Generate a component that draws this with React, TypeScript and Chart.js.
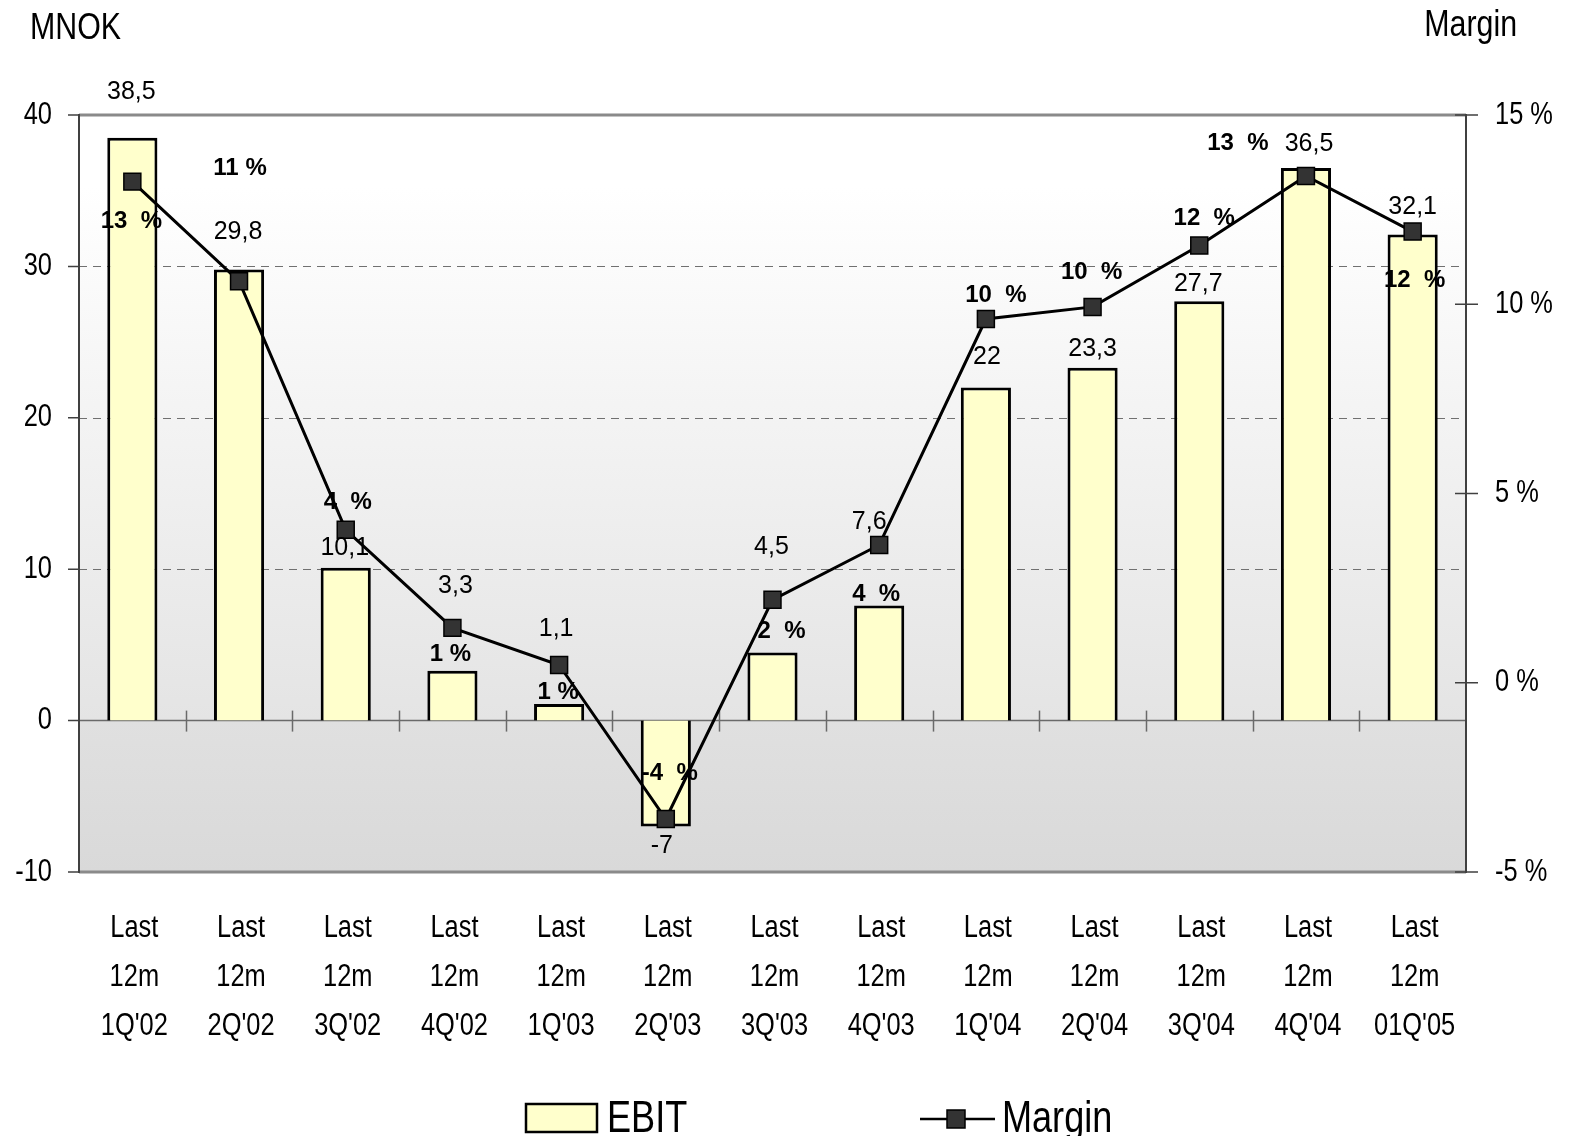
import React, { useEffect, useRef } from "react";
import { Chart, registerables } from "chart.js";

Chart.register(...registerables);

// ---------- data ----------
const quarters = ["1Q'02", "2Q'02", "3Q'02", "4Q'02", "1Q'03", "2Q'03", "3Q'03", "4Q'03", "1Q'04", "2Q'04", "3Q'04", "4Q'04", "01Q'05"];
const categoryPrefix = ["Last", "12m"];
const ebit = [38.5, 29.8, 10.1, 3.3, 1.1, -7, 4.5, 7.6, 22, 23.3, 27.7, 36.5, 32.1];
const margin = [13.24, 10.61, 4.04, 1.45, 0.47, -3.6, 2.19, 3.64, 9.61, 9.93, 11.55, 13.39, 11.92];
const ebitLabels = ["38,5", "29,8", "10,1", "3,3", "1,1", "-7", "4,5", "7,6", "22", "23,3", "27,7", "36,5", "32,1"];
const marginLabels = ["13  %", "11 %", "4  %", "1 %", "1 %", "-4  %", "2  %", "4  %", "10  %", "10  %", "12  %", "13  %", "12  %"];
const leftTicks = [-10, 0, 10, 20, 30, 40];
const rightTicks = [-5, 0, 5, 10, 15];
const dashedGrid = [10, 20, 30];

// label placement offsets (px, relative to bar end / marker)
const ebitLabelOffsets = [[-1, -46], [-1, -37], [-1, -20], [3, -85], [-3, -75], [-4, 20], [-1, -105], [-10, -83], [1, -30], [0, -19], [-1, -17], [3, -24], [0, -27]];
const marginLabelOffsets = [[-1, 40], [1, -113], [2, -27], [-2, 27], [-1, 27], [4, -46], [9, 32], [-3, 49], [10, -24], [-1, -35], [5, -27], [-68, -33], [2, 49]];

const REG = '"Liberation Sans", Arial, sans-serif';
const CONDENSE = 0.82;

function narrowText(ctx: CanvasRenderingContext2D, text: string, x: number, y: number, size: number, align: CanvasTextAlign, baseline: CanvasTextBaseline) {
  ctx.save();
  ctx.font = `${size}px ${REG}`;
  ctx.textAlign = align;
  ctx.textBaseline = baseline;
  ctx.translate(x, y);
  ctx.scale(CONDENSE, 1);
  ctx.fillText(text, 0, 0);
  ctx.restore();
}

const decorPlugin = {
  id: "decor",
  beforeDatasetsDraw(chart: any) {
    const { ctx, chartArea: a, scales } = chart;
    const y = scales.y;
    const y1 = scales.y1;
    const x = scales.x;
    const zero = y.getPixelForValue(0);
    ctx.save();
    // background
    const g = ctx.createLinearGradient(0, a.top, 0, zero);
    g.addColorStop(0, "#ffffff");
    g.addColorStop(0.12, "#ffffff");
    g.addColorStop(1, "#e4e4e4");
    ctx.fillStyle = g;
    ctx.fillRect(a.left, a.top, a.right - a.left, zero - a.top);
    const g2 = ctx.createLinearGradient(0, zero, 0, a.bottom);
    g2.addColorStop(0, "#e0e0e0");
    g2.addColorStop(1, "#d9d9d9");
    ctx.fillStyle = g2;
    ctx.fillRect(a.left, zero, a.right - a.left, a.bottom - zero);

    // dashed grid
    ctx.strokeStyle = "#707070";
    ctx.lineWidth = 1.2;
    ctx.setLineDash([8, 6]);
    for (const v of dashedGrid) {
      const py = Math.round(y.getPixelForValue(v)) + 0.5;
      ctx.beginPath();
      ctx.moveTo(a.left, py);
      ctx.lineTo(a.right, py);
      ctx.stroke();
    }
    ctx.setLineDash([]);

    // zero line
    ctx.strokeStyle = "#6a6a6a";
    ctx.lineWidth = 1.5;
    ctx.beginPath();
    ctx.moveTo(a.left, zero);
    ctx.lineTo(a.right, zero);
    ctx.stroke();

    // category ticks on zero line
    const n = quarters.length;
    for (let i = 1; i < n; i++) {
      const px = Math.round((x.getPixelForValue(i - 1) + x.getPixelForValue(i)) / 2) + 0.5;
      ctx.beginPath();
      ctx.moveTo(px, zero - 10);
      ctx.lineTo(px, zero + 11);
      ctx.stroke();
    }

    // top & bottom borders
    ctx.strokeStyle = "#8a8a8a";
    ctx.lineWidth = 3;
    ctx.beginPath();
    ctx.moveTo(a.left, a.top);
    ctx.lineTo(a.right, a.top);
    ctx.moveTo(a.left, a.bottom);
    ctx.lineTo(a.right, a.bottom);
    ctx.stroke();

    // axes lines
    ctx.strokeStyle = "#404040";
    ctx.lineWidth = 2;
    ctx.beginPath();
    ctx.moveTo(a.left, a.top - 1);
    ctx.lineTo(a.left, a.bottom + 1);
    ctx.moveTo(a.right, a.top - 1);
    ctx.lineTo(a.right, a.bottom + 1);
    ctx.stroke();

    // axis tick marks
    ctx.lineWidth = 1.5;
    ctx.beginPath();
    for (const v of leftTicks) {
      const py = y.getPixelForValue(v);
      ctx.moveTo(a.left - 11, py);
      ctx.lineTo(a.left, py);
    }
    for (const v of rightTicks) {
      const py = y1.getPixelForValue(v);
      ctx.moveTo(a.right - 11, py);
      ctx.lineTo(a.right + 12, py);
    }
    ctx.stroke();
    ctx.restore();
  },
  afterDatasetsDraw(chart: any) {
    const { ctx } = chart;
    const barMeta = chart.getDatasetMeta(0);
    const lineMeta = chart.getDatasetMeta(1);
    ctx.save();
    ctx.textAlign = "center";
    ctx.textBaseline = "middle";
    ctx.fillStyle = "#000";
    ctx.font = `25px ${REG}`;
    barMeta.data.forEach((el: any, i: number) => {
      const [dx, dy] = ebitLabelOffsets[i];
      ctx.fillText(ebitLabels[i], el.x + dx, el.y + dy);
    });
    ctx.font = `bold 24px ${REG}`;
    lineMeta.data.forEach((el: any, i: number) => {
      const [dx, dy] = marginLabelOffsets[i];
      ctx.fillText(marginLabels[i], el.x + dx, el.y + dy);
    });
    ctx.restore();
  },
  afterDraw(chart: any) {
    const { ctx, chartArea: a, scales } = chart;
    const x = scales.x;
    const y = scales.y;
    const y1 = scales.y1;
    ctx.save();
    ctx.fillStyle = "#000";
    // y tick labels
    for (const v of leftTicks) {
      narrowText(ctx, String(v), a.left - 27, y.getPixelForValue(v), 31, "right", "middle");
    }
    for (const v of rightTicks) {
      narrowText(ctx, `${v} %`, a.right + 29, y1.getPixelForValue(v), 31, "left", "middle");
    }
    // category labels
    quarters.forEach((q, i) => {
      const px = x.getPixelForValue(i) + 2;
      const lines = [...categoryPrefix, q];
      lines.forEach((t, k) => {
        narrowText(ctx, t, px, a.bottom + 56 + k * 49, 31, "center", "middle");
      });
    });
    // axis titles
    narrowText(ctx, "MNOK", 30, 39, 37, "left", "alphabetic");
    narrowText(ctx, "Margin", 1517, 36, 37, "right", "alphabetic");

    // legend
    ctx.fillStyle = "#ffffcc";
    ctx.fillRect(526, 1104, 71, 28);
    ctx.strokeStyle = "#000";
    ctx.lineWidth = 2.5;
    ctx.strokeRect(526, 1104, 71, 28);
    ctx.fillStyle = "#000";
    narrowText(ctx, "EBIT", 607, 1132, 44, "left", "alphabetic");
    ctx.lineWidth = 2.5;
    ctx.beginPath();
    ctx.moveTo(920, 1119);
    ctx.lineTo(995, 1119);
    ctx.stroke();
    ctx.fillStyle = "#333333";
    ctx.fillRect(947, 1110, 18, 18);
    ctx.lineWidth = 1.5;
    ctx.strokeRect(947, 1110, 18, 18);
    ctx.fillStyle = "#000";
    narrowText(ctx, "Margin", 1002, 1132, 44, "left", "alphabetic");
    ctx.restore();
  },
};

export default function App() {
  const ref = useRef<HTMLCanvasElement | null>(null);
  useEffect(() => {
    if (!ref.current) return;
    const chart = new Chart(ref.current, {
      type: "bar",
      data: {
        labels: quarters,
        datasets: [
          {
            type: "bar",
            label: "EBIT",
            data: ebit,
            yAxisID: "y",
            backgroundColor: "#ffffcc",
            borderColor: "#000000",
            borderWidth: 3,
            barPercentage: 0.47,
            categoryPercentage: 1,
            order: 2,
          } as any,
          {
            type: "line",
            label: "Margin",
            data: margin,
            yAxisID: "y1",
            borderColor: "#000000",
            borderWidth: 3,
            tension: 0,
            pointStyle: "rect",
            pointRadius: 12,
            pointBackgroundColor: "#333333",
            pointBorderColor: "#000000",
            pointBorderWidth: 1.5,
            order: 1,
          } as any,
        ],
      },
      options: {
        responsive: false,
        animation: false,
        devicePixelRatio: 1,
        layout: { padding: { top: 115, left: 0, right: 0, bottom: 0 } },
        plugins: { legend: { display: false }, tooltip: { enabled: false } },
        scales: {
          x: {
            type: "category",
            offset: true,
            grid: { display: false, drawTicks: false },
            border: { display: false },
            ticks: { display: false },
            afterFit(s: any) { s.height = 264; },
          },
          y: {
            position: "left",
            min: -10,
            max: 40,
            grid: { display: false, drawTicks: false },
            border: { display: false },
            ticks: { display: false },
            afterBuildTicks(s: any) { s.ticks = leftTicks.map((v) => ({ value: v })); },
            afterFit(s: any) { s.width = 79; },
          },
          y1: {
            position: "right",
            min: -5,
            max: 15,
            grid: { display: false, drawTicks: false },
            border: { display: false },
            ticks: { display: false },
            afterBuildTicks(s: any) { s.ticks = rightTicks.map((v) => ({ value: v })); },
            afterFit(s: any) { s.width = 103; },
          },
        },
      } as any,
      plugins: [decorPlugin],
    });
    return () => chart.destroy();
  }, []);
  return (
    <div style={{ position: "absolute", left: 0, top: 0, width: 1569, height: 1136, background: "#fff" }}>
      <canvas ref={ref} width={1569} height={1136} style={{ display: "block" }} />
    </div>
  );
}
